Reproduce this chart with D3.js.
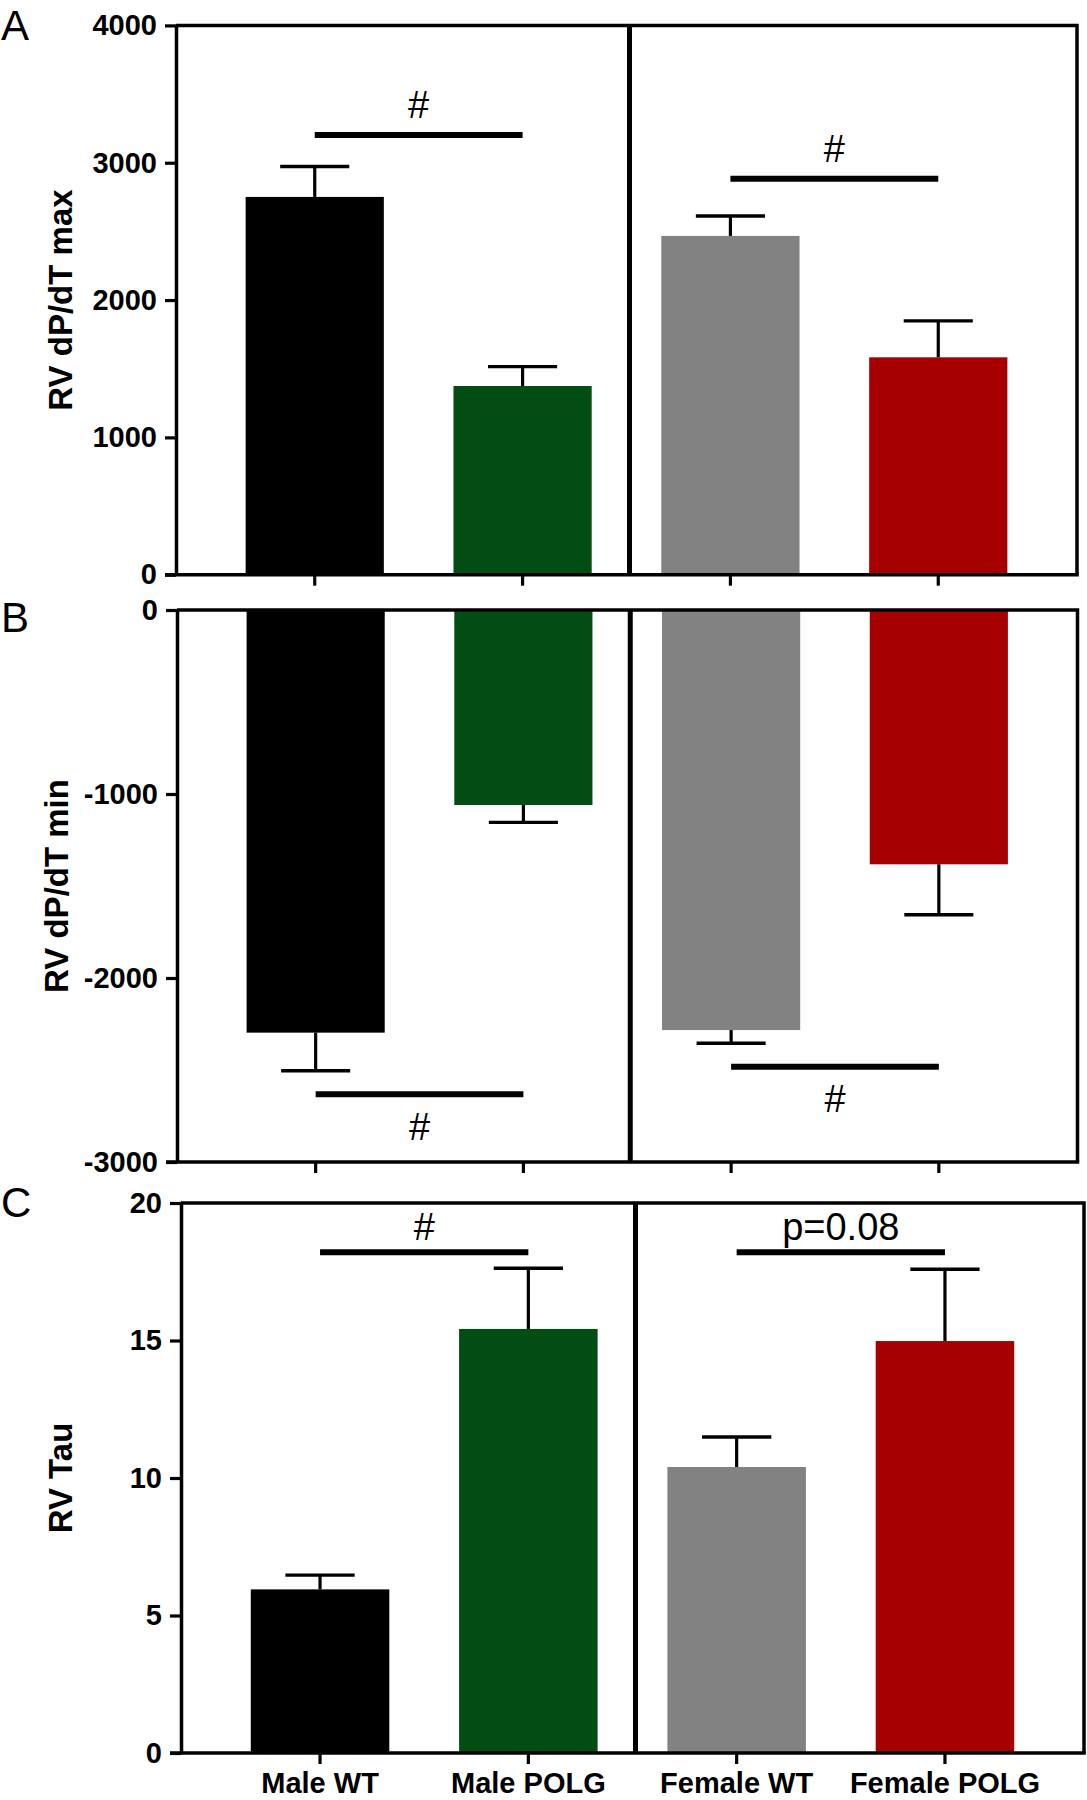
<!DOCTYPE html>
<html>
<head>
<meta charset="utf-8">
<script src="https://cdn.jsdelivr.net/npm/d3@7/dist/d3.min.js"></script>
<style>
  html, body { margin: 0; padding: 0; background: #fff; }
  svg { display: block; }
</style>
</head>
<body>
<svg id="chart" width="1087" height="1800"></svg>
<script>
// ---------------- DATA ----------------
const categories = ["Male WT", "Male POLG", "Female WT", "Female POLG"];
const barColors = ["#000000", "#014d14", "#818281", "#a60000"];

const dpdtMaxMean = [2751, 1374, 2467, 1583];
const dpdtMaxSem  = [221, 141, 145, 265];
const dpdtMaxTicks = [0, 1000, 2000, 3000, 4000];

const dpdtMinMean = [-2297, -1060, -2283, -1382];
const dpdtMinSem  = [207, 94, 72, 274];
const dpdtMinTicks = [0, -1000, -2000, -3000];

const tauMean = [5.95, 15.42, 10.40, 14.98];
const tauSem  = [0.52, 2.21, 1.09, 2.61];
const tauTicks = [0, 5, 10, 15, 20];

// significance annotations: [from, to, level, label]
const sigMax = [["Male WT", "Male POLG", 3202, "#"], ["Female WT", "Female POLG", 2884, "#"]];
const sigMin = [["Male WT", "Male POLG", -2632, "#"], ["Female WT", "Female POLG", -2482, "#"]];
const sigTau = [["Male WT", "Male POLG", 18.21, "#"], ["Female WT", "Female POLG", 18.21, "p=0.08"]];

// ---------------- LAYOUT ----------------
const FONT = "'Liberation Sans', Arial, Helvetica, sans-serif";
const svg = d3.select("#chart");

const panels = [
  { letter: "A", letterY: 40, title: "RV dP/dT max", titleX: 60,
    x0: 176, x1: 1077, yTop: 25.4, yBot: 574.7, domain: [0, 4000],
    mean: dpdtMaxMean, sem: dpdtMaxSem, ticks: dpdtMaxTicks, sig: sigMax,
    sigText: -30, labels: false },
  { letter: "B", letterY: 632, title: "RV dP/dT min", titleX: 56,
    x0: 177, x1: 1077.5, yTop: 610, yBot: 1162, domain: [-3000, 0],
    mean: dpdtMinMean, sem: dpdtMinSem, ticks: dpdtMinTicks, sig: sigMin,
    sigText: 32, labels: false },
  { letter: "C", letterY: 1217, title: "RV Tau", titleX: 60,
    x0: 181, x1: 1084, yTop: 1203, yBot: 1753, domain: [0, 20],
    mean: tauMean, sem: tauSem, ticks: tauTicks, sig: sigTau,
    sigText: -26, labels: true }
];

panels.forEach(p => {
  const g = svg.append("g");
  const x = d3.scaleBand().domain(categories).range([p.x0, p.x1])
    .paddingInner(0.335).paddingOuter(0.335);
  const y = d3.scaleLinear().domain(p.domain).range([p.yBot, p.yTop]);
  const bw = x.bandwidth();
  const cx = c => x(c) + bw / 2;
  const negative = p.domain[1] <= 0;

  // bars
  g.selectAll("rect.bar").data(categories).join("rect")
    .attr("class", "bar")
    .attr("x", d => x(d))
    .attr("width", bw)
    .attr("y", (d, i) => negative ? y(0) : y(p.mean[i]))
    .attr("height", (d, i) => Math.abs(y(p.mean[i]) - y(0)))
    .attr("fill", (d, i) => barColors[i]);

  // error bars
  const errEnd = i => negative ? p.mean[i] - p.sem[i] : p.mean[i] + p.sem[i];
  g.selectAll("line.stem").data(categories).join("line")
    .attr("x1", d => cx(d)).attr("x2", d => cx(d))
    .attr("y1", (d, i) => y(p.mean[i])).attr("y2", (d, i) => y(errEnd(i)))
    .attr("stroke", "#000").attr("stroke-width", 3.2);
  g.selectAll("line.cap").data(categories).join("line")
    .attr("x1", d => cx(d) - bw / 4).attr("x2", d => cx(d) + bw / 4)
    .attr("y1", (d, i) => y(errEnd(i))).attr("y2", (d, i) => y(errEnd(i)))
    .attr("stroke", "#000").attr("stroke-width", 3.4);

  // frame (top & right)
  g.append("path")
    .attr("d", `M${p.x0},${p.yTop}H${p.x1}V${p.yBot}`)
    .attr("fill", "none").attr("stroke", "#000").attr("stroke-width", 3.5);

  // divider between male and female groups
  const divX = (cx(categories[1]) + cx(categories[2])) / 2 + 3;
  g.append("line")
    .attr("x1", divX).attr("x2", divX)
    .attr("y1", p.yTop).attr("y2", p.yBot)
    .attr("stroke", "#000").attr("stroke-width", 5);

  // y axis
  const yAxis = g.append("g")
    .attr("transform", `translate(${p.x0},0)`)
    .call(d3.axisLeft(y).tickValues(p.ticks).tickSize(11).tickSizeOuter(0).tickPadding(8)
      .tickFormat(d => String(d)));
  yAxis.select(".domain").attr("stroke-width", 3.5);
  yAxis.selectAll(".tick line").attr("stroke-width", 3.2);
  yAxis.selectAll(".tick text")
    .attr("font-family", FONT).attr("font-size", 29).attr("font-weight", "bold")
    .attr("fill", "#000");

  // x axis
  const xAxis = g.append("g")
    .attr("transform", `translate(0,${p.yBot})`)
    .call(d3.axisBottom(x).tickSize(11).tickSizeOuter(0).tickPadding(8)
      .tickFormat(p.labels ? (d => d) : () => ""));
  xAxis.select(".domain").attr("stroke-width", 3.5)
    .attr("d", `M${p.x0 - 11},0H${p.x1 + 1.75}`);
  xAxis.selectAll(".tick line").attr("stroke-width", 3.2);
  xAxis.selectAll(".tick text")
    .attr("font-family", FONT).attr("font-size", 29).attr("font-weight", "bold")
    .attr("fill", "#000");

  // significance lines + labels
  p.sig.forEach(s => {
    const ys = y(s[2]);
    g.append("line")
      .attr("x1", cx(s[0])).attr("x2", cx(s[1]))
      .attr("y1", ys).attr("y2", ys)
      .attr("stroke", "#000").attr("stroke-width", 6);
    g.append("text")
      .attr("x", (cx(s[0]) + cx(s[1])) / 2)
      .attr("y", ys + p.sigText)
      .attr("dy", "0.35em")
      .attr("text-anchor", "middle")
      .attr("font-family", FONT).attr("font-size", 38)
      .attr("fill", "#000")
      .text(s[3]);
  });

  // y axis title
  g.append("text")
    .attr("transform", `translate(${p.titleX},${(p.yTop + p.yBot) / 2}) rotate(-90)`)
    .attr("dy", "0.35em")
    .attr("text-anchor", "middle")
    .attr("font-family", FONT).attr("font-size", 33).attr("font-weight", "bold")
    .attr("fill", "#000")
    .text(p.title);

  // panel letter
  g.append("text")
    .attr("x", 1).attr("y", p.letterY)
    .attr("font-family", FONT).attr("font-size", 42)
    .attr("fill", "#000")
    .text(p.letter);
});
</script>
</body>
</html>
